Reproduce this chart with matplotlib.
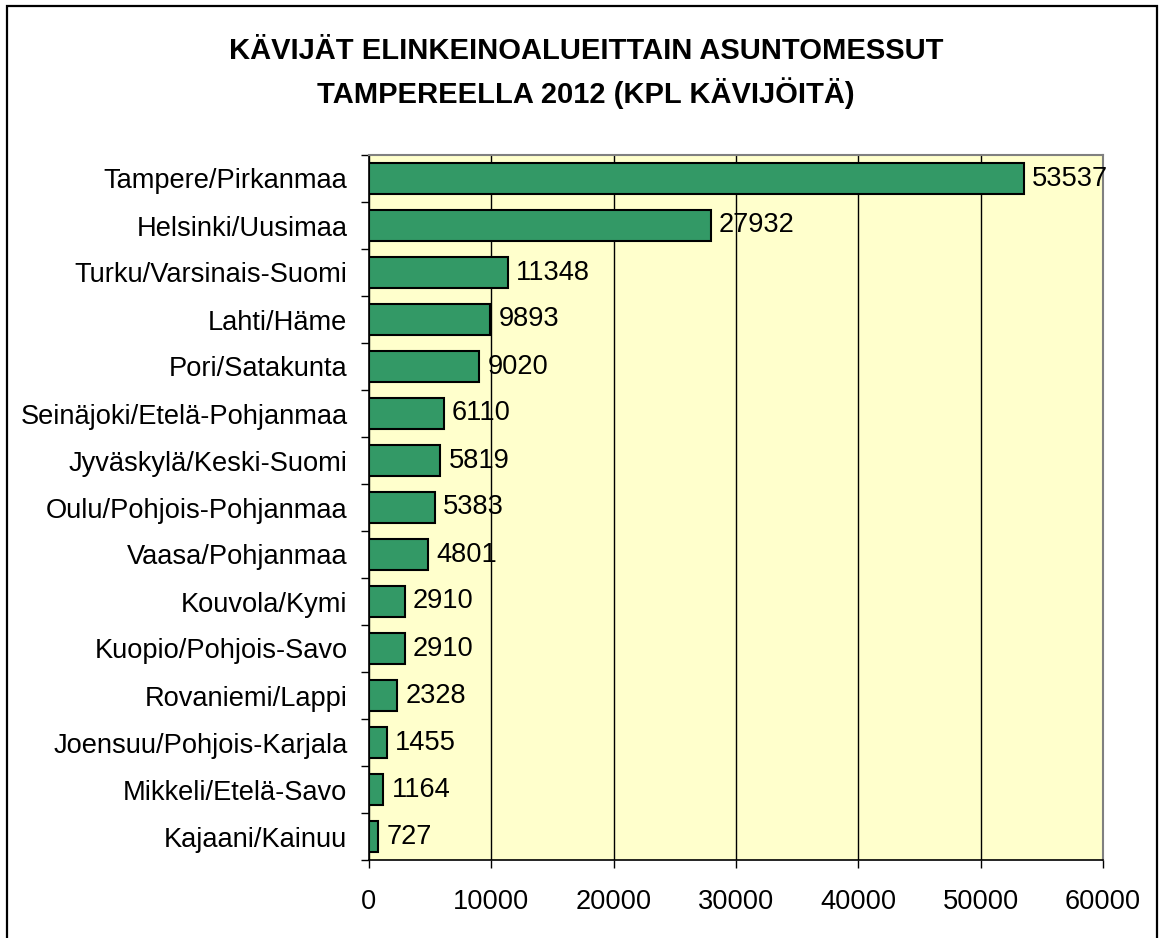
import matplotlib
matplotlib.use("Agg")
import matplotlib.pyplot as plt
from matplotlib.patches import Rectangle

plt.rcParams['font.family'] = ['Liberation Sans', 'DejaVu Sans']

categories = ["Tampere/Pirkanmaa", "Helsinki/Uusimaa", "Turku/Varsinais-Suomi",
              "Lahti/Häme", "Pori/Satakunta", "Seinäjoki/Etelä-Pohjanmaa",
              "Jyväskylä/Keski-Suomi", "Oulu/Pohjois-Pohjanmaa", "Vaasa/Pohjanmaa",
              "Kouvola/Kymi", "Kuopio/Pohjois-Savo", "Rovaniemi/Lappi",
              "Joensuu/Pohjois-Karjala", "Mikkeli/Etelä-Savo", "Kajaani/Kainuu"]
values = [53537, 27932, 11348, 9893, 9020, 6110, 5819, 5383, 4801,
          2910, 2910, 2328, 1455, 1164, 727]
xticks = [0, 10000, 20000, 30000, 40000, 50000, 60000]
title = "KÄVIJÄT ELINKEINOALUEITTAIN ASUNTOMESSUT\nTAMPEREELLA 2012 (KPL KÄVIJÖITÄ)"

W, H = 1162, 938
fig = plt.figure(figsize=(W / 100, H / 100), dpi=100)
fig.patch.set_facecolor("white")

fs = 19.6

# outer border
fig.patches.append(Rectangle((7 / W, -0.05), (1157 - 7) / W, (938 - 6) / H + 0.05,
                             transform=fig.transFigure, fill=False,
                             edgecolor="black", linewidth=1.6, zorder=0))

ax = fig.add_axes([369 / W, 1 - 860 / H, (1103 - 369) / W, (860 - 155) / H])
ax.set_facecolor("#FFFFCC")

n = len(categories)
ypos = list(range(n))
ax.barh(ypos, values, height=0.66, color="#339966", edgecolor="black",
        linewidth=1.5, zorder=3)
for y, v in zip(ypos, values):
    ax.annotate(str(v), xy=(v, y), xytext=(6, 0), textcoords="offset points",
                va="center", ha="left", fontsize=fs, zorder=4)

ax.set_ylim(n - 0.5, -0.5)
ax.set_xlim(0, 60000)
ax.set_xticks(xticks)
ax.set_xticklabels([str(t) for t in xticks], fontsize=fs)
ax.set_yticks(ypos)
ax.set_yticklabels(categories, fontsize=fs)
ax.set_yticks([i - 0.5 for i in range(n + 1)], minor=True)
ax.tick_params(axis="y", which="major", length=0, pad=15.5)
ax.tick_params(axis="y", which="minor", length=6, width=1, direction="out")
ax.tick_params(axis="x", length=6, width=1, direction="out", pad=15)

ax.xaxis.grid(True, color="black", linewidth=1, zorder=1)
ax.set_axisbelow(True)
for s in ["top", "right"]:
    ax.spines[s].set_color("#808080")
    ax.spines[s].set_linewidth(1.5)
for s in ["left", "bottom"]:
    ax.spines[s].set_color("black")
    ax.spines[s].set_linewidth(1.2)

fig.text(586 / W, 1 - 73 / H, title, ha="center", va="center",
         fontsize=21, fontweight="bold", linespacing=1.45)

fig.savefig("out.png", dpi=100)
